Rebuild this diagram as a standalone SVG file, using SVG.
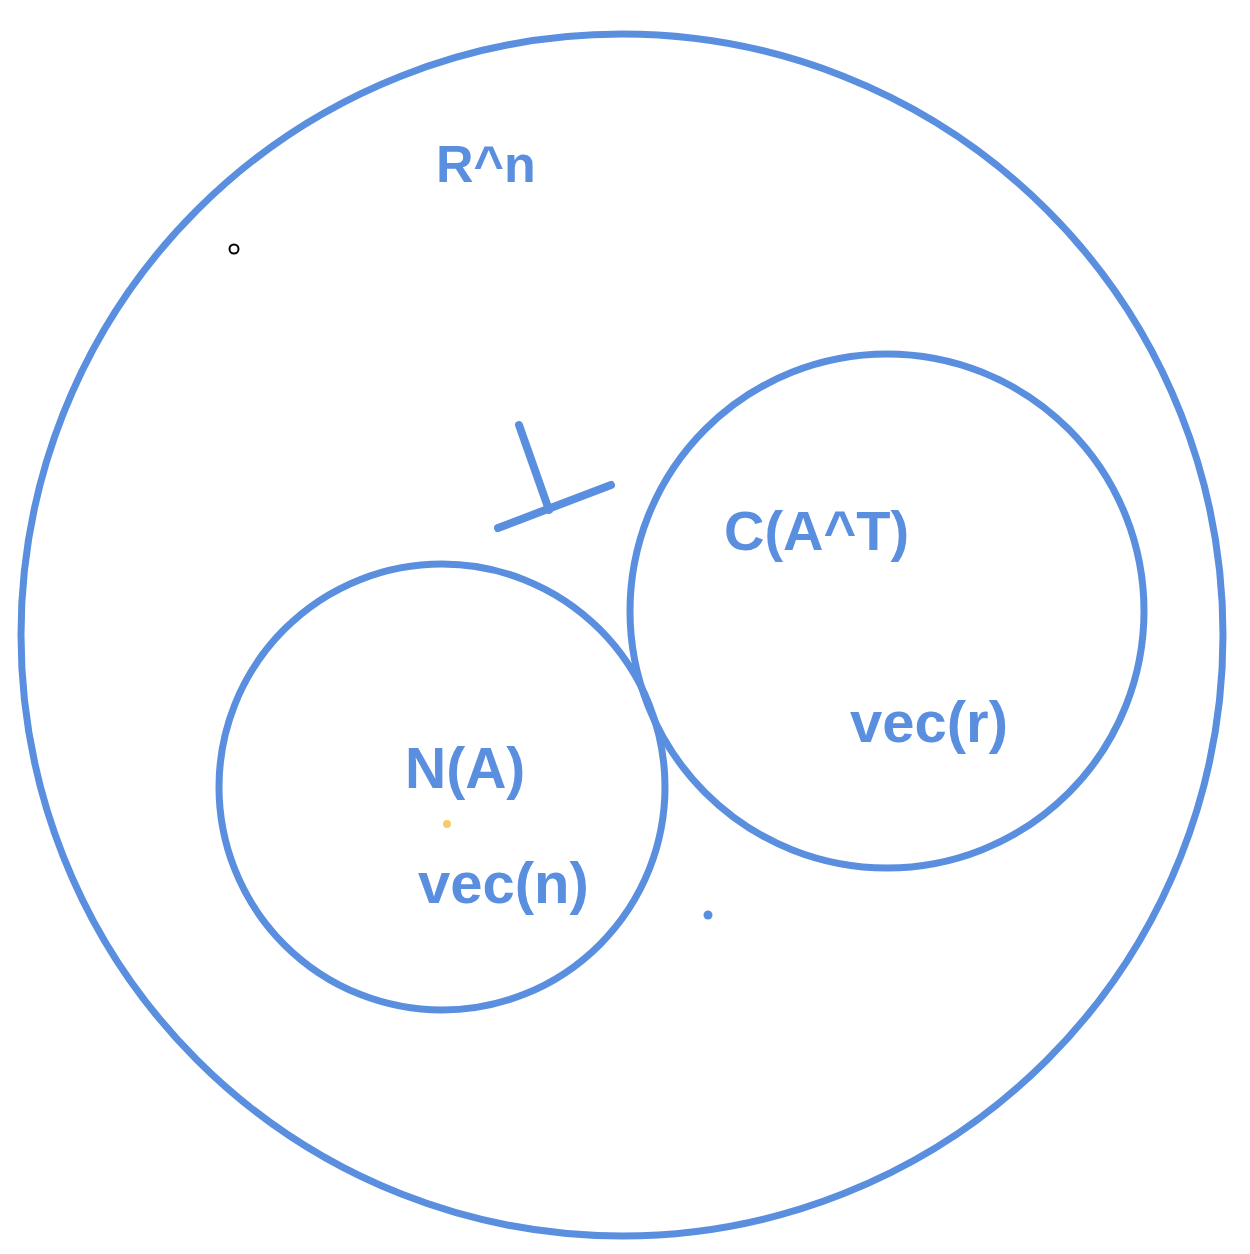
<svg xmlns="http://www.w3.org/2000/svg" width="1250" height="1254" viewBox="0 0 1250 1254">
<style>
.ring{fill:none;stroke:#5a8fe0;stroke-width:7}
.lbl{font-family:"Liberation Sans",Arial,sans-serif;font-weight:bold;fill:#5a8fe0}
.perp{stroke:#5a8fe0;stroke-width:8;stroke-linecap:round}
</style>
<rect width="1250" height="1254" fill="#ffffff"/>
<g id="space-Rn">
<circle class="ring" cx="622" cy="635" r="601"/>
<text class="lbl" x="436" y="182" font-size="52">R^n</text>
</g>
<g id="row-space">
<circle class="ring" cx="887" cy="611" r="257"/>
<text class="lbl" x="724" y="550" font-size="56">C(A^T)</text>
<text class="lbl" x="850" y="742" font-size="58">vec(r)</text>
</g>
<g id="null-space">
<circle class="ring" cx="442" cy="787" r="223"/>
<text class="lbl" x="405" y="788" font-size="57">N(A)</text>
<text class="lbl" x="418" y="903" font-size="58">vec(n)</text>
</g>
<g id="perp-symbol">
<line class="perp" x1="519" y1="425" x2="549" y2="510"/>
<line class="perp" x1="498" y1="528" x2="611" y2="485"/>
</g>
<g id="marks">
<circle cx="234" cy="249" r="4.5" fill="none" stroke="#000" stroke-width="2"/>
<circle cx="447" cy="824" r="4" fill="#f2cd6a"/>
<circle cx="708" cy="915" r="4.5" fill="#5a8fe0"/>
</g>
</svg>
